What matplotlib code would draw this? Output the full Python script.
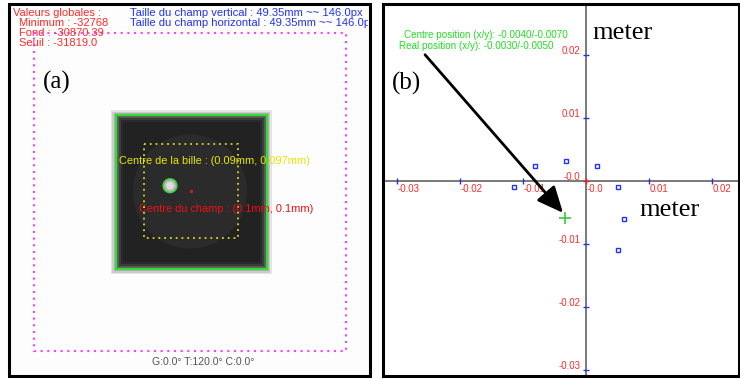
import matplotlib
matplotlib.use("Agg")
import matplotlib.pyplot as plt
from matplotlib.patches import Rectangle, Circle

# panel (b): measured positions (meter)
pts_x = [-0.0081, -0.0031, 0.0018, -0.0114, 0.0052, 0.0060, 0.0052]
pts_y = [0.0023, 0.0031, 0.0023, -0.0010, -0.0010, -0.0061, -0.0110]
centre_x = [-0.0033]
centre_y = [-0.0059]
x_ticks = [-0.03, -0.02, -0.01, 0.0, 0.01, 0.02]
x_labels = ["-0.03", "-0.02", "-0.01", "-0.0", "0.01", "0.02"]
y_ticks = [0.02, 0.01, 0.0, -0.01, -0.02, -0.03]
y_labels = ["0.02", "0.01", "-0.0", "-0.01", "-0.02", "-0.03"]
arrow_tail = (-0.0255, 0.0200)
arrow_tip = (-0.0036, -0.0051)

# panel (a): software overlay texts
info_red = ["Valeurs globales :", "Minimum : -32768", "Fond : -30870.39", "Seuil : -31819.0"]
info_blue = ["Taille du champ vertical : 49.35mm ~~ 146.0px",
             "Taille du champ horizontal : 49.35mm ~~ 146.0px"]
ball_text = "Centre de la bille : (0.09mm, 0.097mm)"
field_text = "Centre du champ : (0.1mm, 0.1mm)"
angles_text = "G:0.0\u00b0 T:120.0\u00b0 C:0.0\u00b0"
green_lines = ["Centre position (x/y): -0.0040/-0.0070",
               "Real position (x/y): -0.0030/-0.0050"]

SANS = "Liberation Sans"
SERIF = "Liberation Serif"
RED = "#ff2a2a"
BLUE = "#2233ee"
GREEN = "#22dd22"

W, H = 740, 379
fig = plt.figure(figsize=(W / 100, H / 100), dpi=100)
fig.patch.set_facecolor("white")

# ---- panel (a), drawn in screenshot pixel units ----
ax = fig.add_axes([0, 0, 1, 1])
ax.set_xlim(0, W)
ax.set_ylim(H, 0)
ax.axis("off")

ax.add_patch(Rectangle((9, 4), 361, 372, facecolor="#fdfdfd", edgecolor="none"))
ax.add_patch(Rectangle((34, 33), 312, 318, fill=False, edgecolor="#ff40ff",
                       lw=1.5, linestyle=(0, (1, 2.2))))

# dark target square with grey bevel
for inset, col in [(0, "#e4e4e4"), (1.5, "#cccccc"), (3, "#b0b0b0"), (4.5, "#8a8a8a"),
                   (6, "#5a5a5a"), (8, "#3c3c3c"), (10, "#2a2a2a"), (12, "#222222")]:
    ax.add_patch(Rectangle((110.5 + inset, 110 + inset), 161 - 2 * inset, 164 - 2 * inset,
                           facecolor=col, edgecolor="none"))
ax.add_patch(Rectangle((115.5, 115), 151.5, 154, fill=False, edgecolor="#33dd33", lw=1.6))
ax.add_patch(Circle((190, 191.5), 57, facecolor="#2b2b2b", edgecolor="none"))
ax.add_patch(Rectangle((144.3, 144.3), 93.4, 93.4, fill=False, edgecolor="#d8d820",
                       lw=1.3, linestyle=(0, (1, 2.2))))
ax.add_patch(Circle((170, 185.7), 6.8, facecolor="#b8b8b8", edgecolor="#44cc44", lw=1.2))
ax.add_patch(Circle((170, 185.7), 4, facecolor="#dcdcdc", edgecolor="none"))
ax.plot([190.7], [191], marker="s", ms=1.2, color="#cc2222")

texts = []
texts.append(ax.text(13.3, 12.7, info_red[0], color=RED, fontsize=8, family=SANS, va="center"))
for i, s in enumerate(info_red[1:]):
    texts.append(ax.text(19, 23.3 + 10 * i, s, color=RED, fontsize=8, family=SANS, va="center"))
for i, s in enumerate(info_blue):
    texts.append(ax.text(130, 12.7 + 10.6 * i, s, color=BLUE, fontsize=8.1, family=SANS, va="center"))
texts.append(ax.text(119, 161, ball_text, color="#e6e600", fontsize=7.9, family=SANS, va="center"))
texts.append(ax.text(139, 209, field_text, color="#ee1111", fontsize=7.9, family=SANS, va="center"))
ax.text(203.5, 362, angles_text, color="#555555", fontsize=7.6, family=SANS, ha="center", va="center")
ax.text(43, 82, "(a)", fontsize=18, family=SERIF, va="center")
# the overlay texts are cut off at the panel frame, as in the screenshot
clip = Rectangle((10, 5), 358, 370, transform=ax.transData)
for t in texts:
    t.set_clip_on(True)
    t.set_clip_path(clip)

ax.add_patch(Rectangle((9, 4), 361, 372, fill=False, edgecolor="black", lw=2.2))

# ---- panel (b), data coordinates ----
bx = fig.add_axes([383 / W, 1 - 376 / H, (739 - 383) / W, (376 - 4) / H])
bx.set_xlim(-0.03217, 0.02433)
bx.set_ylim(-0.0310, 0.02805)
bx.set_facecolor("white")
bx.set_xticks([])
bx.set_yticks([])
for sp in bx.spines.values():
    sp.set_color("black")
    sp.set_linewidth(2.2)

bx.axhline(0, color="#555555", lw=1.1, zorder=1)
bx.axvline(0, color="#555555", lw=1.1, zorder=1)

for xv, lab in zip(x_ticks, x_labels):
    bx.plot([xv], [0], marker="|", ms=5, mew=1, color="#2233ee" if xv != 0 else "#ee2222", zorder=2)
    bx.annotate(lab, (xv, 0), xytext=(0.5, -6), textcoords="offset points",
                ha="left", va="center", fontsize=6.9, family=SANS, color=RED)
for yv, lab in zip(y_ticks, y_labels):
    bx.plot([0], [yv], marker="_", ms=5, mew=1, color="#2233ee" if yv != 0 else "#ee2222", zorder=2)
    bx.annotate(lab, (0, yv), xytext=(-4, 3), textcoords="offset points",
                ha="right", va="center", fontsize=6.9, family=SANS, color=RED)

bx.plot(pts_x, pts_y, linestyle="none", marker="s", ms=3.5, mfc="white", mec="#2233ee", mew=1, zorder=3)
bx.plot(centre_x, centre_y, linestyle="none", marker="+", ms=8.5, mew=1.2, color="#33cc33", zorder=3)

bx.annotate("", xy=arrow_tip, xytext=arrow_tail,
            arrowprops=dict(arrowstyle="-|>,head_length=1.0,head_width=0.45", color="black",
                            lw=2, mutation_scale=16, shrinkA=0, shrinkB=0), zorder=4)

bx.text(0.058, 0.917, green_lines[0], transform=bx.transAxes, color=GREEN, fontsize=7.1,
        family=SANS, va="center")
bx.text(0.046, 0.887, green_lines[1], transform=bx.transAxes, color=GREEN, fontsize=7.1,
        family=SANS, va="center")
bx.text(0.025, 0.787, "(b)", transform=bx.transAxes, fontsize=18, family=SERIF, va="center")
bx.text(0.588, 0.921, "meter", transform=bx.transAxes, fontsize=19, family=SERIF, va="center")
bx.text(0.720, 0.447, "meter", transform=bx.transAxes, fontsize=19, family=SERIF, va="center")

fig.savefig("out.png", dpi=100)
